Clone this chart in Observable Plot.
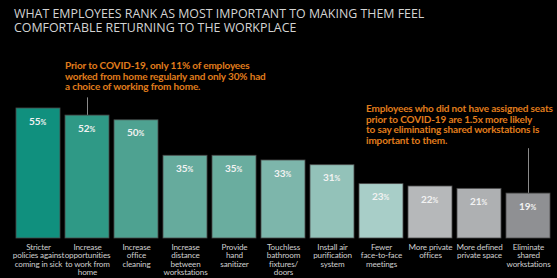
<!DOCTYPE html>
<html>
<head>
<meta charset="utf-8">
<script src="https://cdn.jsdelivr.net/npm/d3@7"></script>
<script src="https://cdn.jsdelivr.net/npm/@observablehq/plot@0.6"></script>
<style>
  html, body { margin: 0; padding: 0; background: #000; }
  #wrap { position: relative; width: 557px; height: 278px; overflow: hidden; background: #000; font-family: "Open Sans", sans-serif; }
  #title { position: absolute; left: 14px; top: 7px; font-size: 12.4px; line-height: 13.5px; color: #d4d4d4; white-space: nowrap; }
  .note { position: absolute; color: #e07d1c; font-family: Lato, sans-serif; font-weight: 700; font-size: 10px; line-height: 10.7px; white-space: nowrap; letter-spacing: -0.15px; }
  #note1 { left: 65px; top: 60px; }
  #note2 { left: 366px; top: 103px; }
  #chart { position: absolute; left: 0; top: 0; }
  #chart g.cat text { letter-spacing: -0.15px; }
</style>
</head>
<body>
<div id="wrap">
  <div id="chart"></div>
  <div id="title">WHAT EMPLOYEES RANK AS MOST IMPORTANT TO MAKING THEM FEEL<br>COMFORTABLE RETURNING TO THE WORKPLACE</div>
  <div class="note" id="note1">Prior to COVID-19, only 11% of employees<br>worked from home regularly and only 30% had<br>a choice of working from home.</div>
  <div class="note" id="note2">Employees who did not have assigned seats<br>prior to COVID-19 are 1.5x more likely<br>to say eliminating shared workstations is<br>important to them.</div>
</div>
<script>
const categories = [
  "Stricter\npolicies against\ncoming in sick",
  "Increase\nopportunities\nto work from\nhome",
  "Increase\noffice\ncleaning",
  "Increase\ndistance\nbetween\nworkstations",
  "Provide\nhand\nsanitizer",
  "Touchless\nbathroom\nfixtures/\ndoors",
  "Install air\npurification\nsystem",
  "Fewer\nface-to-face\nmeetings",
  "More private\noffices",
  "More defined\nprivate space",
  "Eliminate\nshared\nworkstations"
];
const values = [55, 52, 50, 35, 35, 33, 31, 23, 22, 21, 19];
const colors = ["#10907e", "#2f9986", "#4ea291", "#66ab9d", "#6aad9f", "#7db6ab", "#93c2b9", "#a8cec8", "#b6b8ba", "#aeb0b2", "#8f9093"];

const data = categories.map((c, i) => ({category: c, value: values[i], color: colors[i]}));

// annotation connectors (data units)
const connectors = [
  {category: categories[1], from: 52, to: 59.5},
  {category: categories[10], from: 19, to: 38}
];

const chart = Plot.plot({
  width: 557,
  height: 278,
  marginTop: 108,
  marginBottom: 40,
  marginLeft: 14,
  marginRight: 5,
  style: {background: "transparent", fontFamily: "Lato, sans-serif"},
  x: {domain: categories, paddingInner: 0.11, paddingOuter: 0, axis: null},
  y: {domain: [0, 55], axis: null},
  color: {type: "identity"},
  marks: [
    Plot.ruleX(connectors, {x: "category", y1: "from", y2: "to", stroke: "#8a8a8a", strokeWidth: 1}),
    Plot.barY(data, {x: "category", y: "value", fill: "color", stroke: "#4a4a4a", strokeWidth: 0.8}),
    Plot.text(data, {x: "category", y: "value", text: d => String(d.value), textAnchor: "end", dx: 2, dy: 16, lineAnchor: "bottom", fill: "#f2f2f2", fontSize: 10, fontWeight: 700, fontFamily: "Lato, sans-serif"}),
    Plot.text(data, {x: "category", y: "value", text: () => "%", textAnchor: "start", dx: 2, dy: 16, lineAnchor: "bottom", fill: "#f2f2f2", fontSize: 7, fontWeight: 700, fontFamily: "Lato, sans-serif"}),
    Plot.text(data, {x: "category", y: 0, text: "category", lineAnchor: "top", dy: 5, fill: "#cfcfcf", fontSize: 8.1, lineHeight: 1.05, fontFamily: "Lato, sans-serif", className: "cat"})
  ]
});
document.getElementById("chart").appendChild(chart);
</script>
</body>
</html>
